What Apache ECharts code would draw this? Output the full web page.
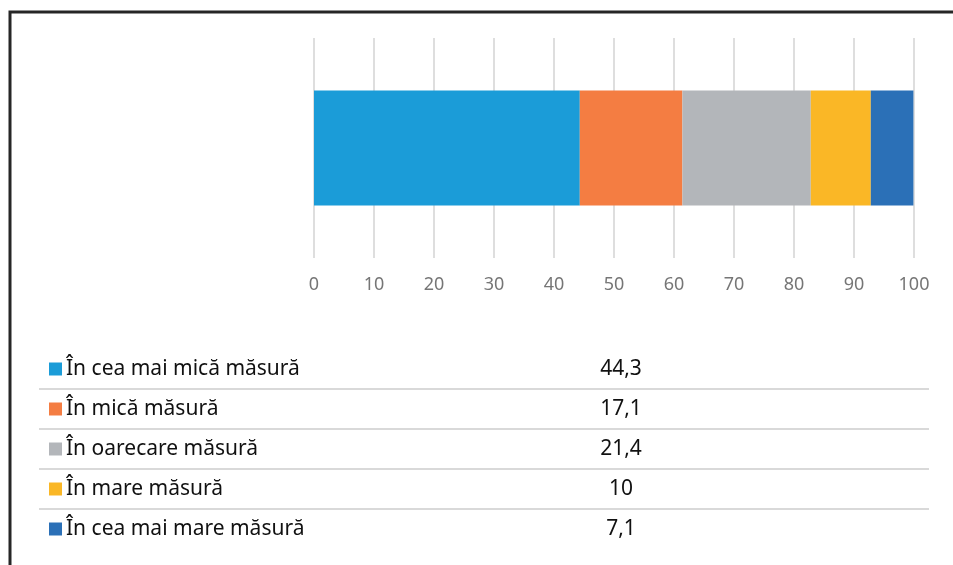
<!DOCTYPE html>
<html>
<head>
<meta charset="utf-8">
<script src="https://cdn.jsdelivr.net/npm/echarts@6/dist/echarts.min.js"></script>
<style>
  html, body { margin: 0; padding: 0; background: #fff; }
  #chart { width: 953px; height: 565px; }
</style>
</head>
<body>
<div id="chart"></div>
<script>
  // categorii si valori (procente)
  const categories = ['În cea mai mică măsură', 'În mică măsură', 'În oarecare măsură', 'În mare măsură', 'În cea mai mare măsură']
  const values = [44.3, 17.1, 21.4, 10, 7.1]
  const colorList = ['#1b9cd8', '#f47d42', '#b3b6ba', '#fab726', '#2b70b7']
  const axisMin = 0
  const axisMax = 100
  const axisStep = 10

  const textColor = '#767676'
  const fontFamily = '"Noto Sans", "DejaVu Sans", sans-serif'

  const myChart = echarts.init(document.getElementById('chart'))

  // tabelul de sub grafic
  const rowTop = 349
  const rowH = 40
  const graphic = []
  // rama
  graphic.push({
    type: 'polyline',
    shape: { points: [[10, 565], [10, 12], [953, 12]] },
    style: { stroke: '#262626', lineWidth: 3, fill: null }
  })
  categories.forEach((name, i) => {
    const cy = rowTop + rowH * i + rowH / 2
    graphic.push({
      type: 'rect',
      shape: { x: 49, y: cy - 6.5, width: 13, height: 13 },
      style: { fill: colorList[i] }
    })
    graphic.push({
      type: 'text',
      x: 66,
      y: cy,
      style: { text: name, fill: '#111', font: '21px ' + fontFamily, textVerticalAlign: 'middle' }
    })
    graphic.push({
      type: 'text',
      x: 621,
      y: cy,
      style: {
        text: String(values[i]).replace('.', ','),
        fill: '#111',
        font: '21px ' + fontFamily,
        textAlign: 'center',
        textVerticalAlign: 'middle'
      }
    })
    if (i < categories.length - 1) {
      graphic.push({
        type: 'line',
        shape: { x1: 39, y1: rowTop + rowH * (i + 1), x2: 929, y2: rowTop + rowH * (i + 1) },
        style: { stroke: '#d9d9d9', lineWidth: 2 }
      })
    }
  })

  const series = categories.map((name, i) => ({
    name: name,
    type: 'bar',
    stack: 'total',
    barWidth: 115,
    itemStyle: { color: colorList[i] },
    data: [values[i]]
  }))

  const option = {
    animation: false,
    grid: { left: 314, right: 39, top: 38, bottom: 307 },
    xAxis: {
      type: 'value',
      min: axisMin,
      max: axisMax,
      interval: axisStep,
      axisLine: { show: false },
      axisTick: { show: false },
      splitLine: { lineStyle: { color: '#dedede', width: 2 } },
      axisLabel: { color: textColor, fontSize: 18, fontFamily: fontFamily, margin: 18 }
    },
    yAxis: {
      type: 'category',
      data: [''],
      axisLine: { show: false },
      axisTick: { show: false },
      axisLabel: { show: false }
    },
    series: series,
    graphic: graphic
  }

  myChart.setOption(option)
</script>
</body>
</html>
